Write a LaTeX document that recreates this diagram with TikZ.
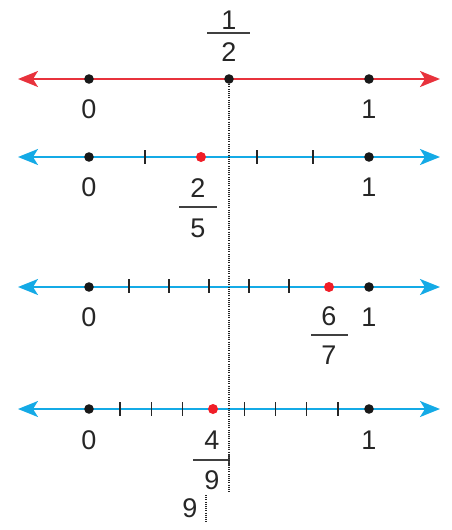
\documentclass[tikz,border=0pt]{standalone}
\usepackage{fontspec}
\setmainfont{Liberation Sans}
\usetikzlibrary{arrows.meta}
\definecolor{linered}{RGB}{232,50,60}
\definecolor{lineblue}{RGB}{20,170,230}
\definecolor{dotred}{RGB}{240,30,40}

\begin{document}
\begin{tikzpicture}[x=0.5pt,y=-0.5pt,
  numline/.style={line width=1pt,{Stealth[length=10pt,width=8pt,inset=2.5pt]}-{Stealth[length=10pt,width=8pt,inset=2.5pt]}},
  tick/.style={line width=0.7pt,black!85},
  pt/.style={circle,fill=black!90,inner sep=0pt,minimum size=4.8pt},
  ptred/.style={circle,fill=dotred,inner sep=0pt,minimum size=5pt},
  lbl/.style={font=\fontsize{13.5}{15}\selectfont,text=black!85,inner sep=0pt},
  fracbar/.style={line width=0.9pt,black!75},
  guide/.style={line width=0.7pt,black!85,dash pattern=on 0.5pt off 0.6pt}]
\useasboundingbox (0,0) rectangle (451,530);

% halves (red)
\coordinate (ra) at (18,79);
\coordinate (rb) at (440,79);
\draw[numline,linered] (ra) -- (rb);
\node[pt] (r0) at (89,79) {};
\node[pt] (rh) at (229,79) {};
\node[pt] (r1) at (369,79) {};
\node[lbl] (r0l) at (89,109) {0};
\node[lbl] (r1l) at (369,109) {1};
\node[lbl] (rhn) at (229,20) {1};
\node[lbl] (rhd) at (229,52) {2};
\draw[fracbar] (207,33) -- (250,33);

% fifths
\coordinate (fa) at (18,157);
\coordinate (fb) at (440,157);
\draw[numline,lineblue] (fa) -- (fb);
\foreach \k in {1,3,4}
  \draw[tick] ({89+56*\k},150) -- ++(0,14);
\node[pt] (f0) at (89,157) {};
\node[ptred] (f2) at (201,157) {};
\node[pt] (f1) at (369,157) {};
\node[lbl] (f0l) at (89,187) {0};
\node[lbl] (f1l) at (369,187) {1};
\node[lbl] (f2n) at (198,188) {2};
\node[lbl] (f2d) at (198,228) {5};
\draw[fracbar] (179,207) -- (217,207);

% sevenths
\coordinate (sa) at (18,287);
\coordinate (sb) at (440,287);
\draw[numline,lineblue] (sa) -- (sb);
\foreach \k in {1,...,5}
  \draw[tick] ({89+40*\k},279) -- ++(0,14);
\node[pt] (s0) at (89,287) {};
\node[ptred] (s6) at (329,287) {};
\node[pt] (s1) at (369,287) {};
\node[lbl] (s0l) at (89,317) {0};
\node[lbl] (s1l) at (369,317) {1};
\node[lbl] (s6n) at (329,316) {6};
\node[lbl] (s6d) at (329,355) {7};
\draw[fracbar] (311,335) -- (348,335);

% ninths
\coordinate (na) at (18,409);
\coordinate (nb) at (440,409);
\draw[numline,lineblue] (na) -- (nb);
\foreach \k in {1,2,3,5,6,7,8}
  \draw[tick] ({89+280/9*\k},402) -- ++(0,14);
\node[pt] (n0) at (89,409) {};
\node[ptred] (n4) at (213,409) {};
\node[pt] (n1) at (369,409) {};
\node[lbl] (n0l) at (89,440) {0};
\node[lbl] (n1l) at (369,440) {1};
\node[lbl] (n4n) at (212,440) {4};
\node[lbl] (n4d) at (212,480) {9};
\draw[fracbar] (193,460) -- (229,460);
\draw[fracbar] (229,455) -- (229,465);
\node[lbl] (n9) at (190,508) {9};

% guides
\coordinate (g1) at (229,492);
\draw[guide] (rh) -- (g1);
\coordinate (g2a) at (206,495);
\coordinate (g2b) at (206,522);
\draw[guide] (g2a) -- (g2b);
\end{tikzpicture}
\end{document}
